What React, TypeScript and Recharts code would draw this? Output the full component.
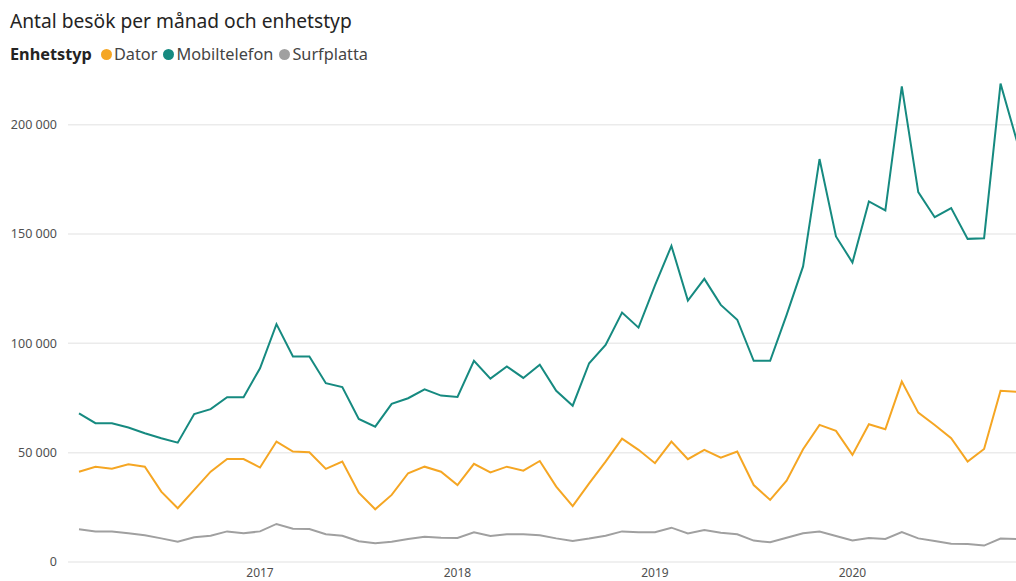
import React from 'react';
import { LineChart, Line, XAxis, YAxis, ReferenceLine } from 'recharts';

// Feb 2016 – Nov 2020
const months = Array.from({ length: 58 }, (_, i) => {
  const m = i + 1;
  const year = 2016 + Math.floor(m / 12);
  const month = (m % 12) + 1;
  return `${year}-${String(month).padStart(2, '0')}`;
});

const dator = [
  41300, 43600, 42700, 44700, 43600, 32200, 24600, 33000, 41300, 47100, 47100, 43200,
  55100, 50500, 50200, 42600, 45900, 31700, 24100, 30700, 40600, 43600, 41300, 35200,
  44900, 41000, 43600, 41800, 46200, 34500, 25600, 36000, 45900, 56400, 51300, 45200,
  55100, 47000, 51300, 47700, 50500, 35200, 28400, 37200, 51600, 62700, 60000, 49000,
  63000, 60700, 82500, 68300, 62700, 56600, 45900, 51700, 78300, 77900,
];

const mobiltelefon = [
  68000, 63500, 63500, 61500, 58900, 56600, 54600, 67700, 69900, 75400, 75400, 88600,
  108800, 94000, 94000, 81800, 80000, 65400, 61900, 72300, 74900, 79000, 76100, 75500,
  92000, 83900, 89400, 84200, 90200, 78300, 71500, 90900, 99300, 114100, 107200, 126500,
  144600, 119600, 129500, 117600, 110800, 92000, 92000, 113000, 135200, 184300, 148900, 137000,
  164900, 160800, 217500, 169200, 157700, 161900, 147800, 148100, 218800, 192400,
];

const surfplatta = [
  15000, 13900, 13900, 13100, 12200, 10800, 9300, 11300, 12000, 14000, 13100, 14000,
  17400, 15200, 15100, 12700, 12000, 9500, 8600, 9300, 10500, 11600, 11100, 11000,
  13600, 11900, 12700, 12700, 12200, 10800, 9600, 10700, 12000, 14000, 13600, 13600,
  15700, 13100, 14600, 13400, 12700, 9800, 9000, 11100, 13100, 13900, 11900, 9800,
  11000, 10500, 13700, 10800, 9600, 8400, 8200, 7500, 10700, 10500,
];

const yearTicks = ['2017-01', '2018-01', '2019-01', '2020-01'];
const yTicks = [0, 50000, 100000, 150000, 200000];

const data = months.map((month, i) => ({
  month,
  Dator: dator[i],
  Mobiltelefon: mobiltelefon[i],
  Surfplatta: surfplatta[i],
}));

const series = [
  { key: 'Dator', color: '#F5A623' },
  { key: 'Mobiltelefon', color: '#168A80' },
  { key: 'Surfplatta', color: '#A0A0A0' },
];

const font = '"Noto Sans", "Open Sans", sans-serif';

const fmt = (v: number) => v.toLocaleString('en-US').replace(/,/g, ' ');

export default function App() {
  return (
    <div
      style={{
        position: 'absolute',
        left: 0,
        top: 0,
        width: 1016,
        height: 581,
        overflow: 'hidden',
        background: '#fff',
        fontFamily: font,
      }}
    >
      <div style={{ position: 'absolute', left: 10, top: 7, fontSize: 19.2, color: '#252423' }}>
        Antal besök per månad och enhetstyp
      </div>
      <div
        style={{
          position: 'absolute',
          left: 10,
          top: 43,
          fontSize: 16.3,
          color: '#252423',
          display: 'flex',
          alignItems: 'center',
        }}
      >
        <span style={{ fontWeight: 'bold', marginRight: 9 }}>Enhetstyp</span>
        {series.map((s) => (
          <span key={s.key} style={{ display: 'flex', alignItems: 'center', marginRight: 6, color: '#444' }}>
            <span
              style={{
                width: 11,
                height: 11,
                borderRadius: 6,
                background: s.color,
                display: 'inline-block',
                marginRight: 2,
              }}
            />
            {s.key}
          </span>
        ))}
      </div>
      <LineChart width={1017} height={581} data={data} margin={{ top: 81, right: 0, bottom: 0, left: 0 }}>
        <XAxis
          dataKey="month"
          ticks={yearTicks}
          tickFormatter={(v: string) => v.slice(0, 4)}
          axisLine={false}
          tickLine={false}
          height={19}
          tickMargin={0}
          padding={{ left: 11, right: 0 }}
          tick={{ fontSize: 12, fill: '#505050', fontFamily: font }}
          interval={0}
        />
        <YAxis
          domain={[0, 220000]}
          ticks={yTicks}
          tickFormatter={fmt}
          axisLine={false}
          tickLine={false}
          width={68}
          tickMargin={5}
          tick={{ fontSize: 12.5, fill: '#505050', fontFamily: font }}
          allowDataOverflow
        />
        {yTicks.map((t) => (
          <ReferenceLine key={t} y={t} stroke="#EBEBEB" strokeWidth={1.5} />
        ))}
        {series.map((s) => (
          <Line
            key={s.key}
            type="linear"
            dataKey={s.key}
            stroke={s.color}
            strokeWidth={2}
            dot={false}
            activeDot={false}
            isAnimationActive={false}
          />
        ))}
      </LineChart>
    </div>
  );
}
